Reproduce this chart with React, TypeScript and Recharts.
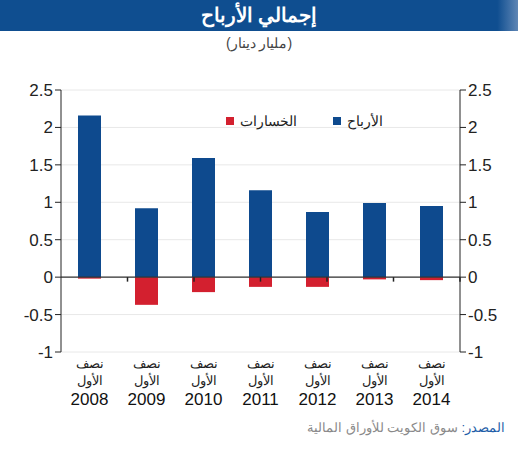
import { BarChart, Bar, XAxis, YAxis, CartesianGrid, ReferenceLine } from "recharts";

const years = ["2008", "2009", "2010", "2011", "2012", "2013", "2014"];
const profits = [2.16, 0.92, 1.59, 1.16, 0.87, 0.99, 0.95];
const losses = [-0.02, -0.37, -0.2, -0.13, -0.13, -0.03, -0.04];
const yTicks = [-1, -0.5, 0, 0.5, 1, 1.5, 2, 2.5];
const boundaries = [1, 2, 3, 4, 5, 6];

const data = years.map((y, i) => ({ year: y, profit: profits[i], loss: losses[i] }));

const BLUE = "#0e4a8e";
const RED = "#d3202f";
const FONT = "Liberation Sans, Arial, sans-serif";

const YearTick = (props: any) => {
  const { x, y, payload } = props;
  return (
    <g transform={`translate(${x},${y})`} textAnchor="middle" style={{ fontFamily: FONT }}>
      <text y={8} fontSize={13} fill="#222" style={{ fontFamily: FONT }}>نصف</text>
      <text y={25} fontSize={13} fill="#222" style={{ fontFamily: FONT }}>الأول</text>
      <text y={45} fontSize={17} fill="#111" style={{ fontFamily: FONT }}>{payload.value}</text>
    </g>
  );
};

export default function App() {
  return (
    <div style={{ position: "absolute", left: 0, top: 0, width: 522, height: 450, background: "#fff" }}>
      <div
        style={{
          position: "absolute", left: 0, top: 0, width: 518, height: 31,
          background: "linear-gradient(to right, #0f4e90 0%, #0f4e90 96%, #5f86b5 100%)",
          color: "#fff", fontFamily: FONT, fontWeight: "bold", fontSize: 20,
          textAlign: "center", lineHeight: "31px",
        }}
        dir="rtl"
      >
        إجمالي الأرباح
      </div>
      <div
        style={{ position: "absolute", left: 0, top: 35, width: 518, textAlign: "center", fontFamily: FONT, fontSize: 14, color: "#444" }}
        dir="rtl"
      >
        (مليار دينار)
      </div>
      <div style={{ position: "absolute", left: 0, top: 0 }}>
        <BarChart
          width={522} height={450} data={data} stackOffset="sign"
          margin={{ top: 90, right: 12, bottom: 38, left: 11 }} barSize={23}
        >
          <CartesianGrid vertical={false} stroke="#e8e8e8" yAxisId="left" xAxisId="cat" />
          <XAxis dataKey="year" xAxisId="cat" axisLine={false} tickLine={false} height={60} tick={<YearTick />} interval={0} />
          <XAxis xAxisId="num" type="number" domain={[0, 7]} hide />
          <YAxis
            yAxisId="left" domain={[-1, 2.5]} ticks={yTicks} width={50} allowDataOverflow
            axisLine={{ stroke: "#222" }} tickLine={{ stroke: "#222" }} tickSize={6}
            tick={{ fill: "#222", fontSize: 17, fontFamily: FONT }}
          />
          <YAxis
            yAxisId="right" orientation="right" domain={[-1, 2.5]} ticks={yTicks} width={50} allowDataOverflow
            axisLine={{ stroke: "#222" }} tickLine={{ stroke: "#222" }} tickSize={6}
            tick={{ fill: "#222", fontSize: 17, fontFamily: FONT }}
          />
          <Bar xAxisId="cat" yAxisId="left" dataKey="profit" stackId="a" fill={BLUE} isAnimationActive={false} />
          <Bar xAxisId="cat" yAxisId="left" dataKey="loss" stackId="a" fill={RED} isAnimationActive={false} />
          <ReferenceLine xAxisId="cat" yAxisId="left" y={0} stroke="#333" strokeWidth={1.2} />
          {boundaries.map((b) => (
            <ReferenceLine
              key={b}
              xAxisId="num"
              yAxisId="left"
              segment={[{ x: b, y: 0 }, { x: b, y: -0.06 }]}
              stroke="#222"
              strokeWidth={1.5}
            />
          ))}
        </BarChart>
      </div>
      <div
        style={{ position: "absolute", left: 226, top: 113, display: "flex", gap: 36, fontFamily: FONT, fontSize: 14, color: "#222" }}
      >
        <span style={{ display: "flex", alignItems: "center", gap: 6 }}>
          <span style={{ width: 8, height: 8, background: RED, display: "inline-block" }} />
          <span dir="rtl">الخسارات</span>
        </span>
        <span style={{ display: "flex", alignItems: "center", gap: 6 }}>
          <span style={{ width: 8, height: 8, background: BLUE, display: "inline-block" }} />
          <span dir="rtl">الأرباح</span>
        </span>
      </div>
      <div style={{ position: "absolute", right: 17, top: 420, fontFamily: FONT, fontSize: 13 }} dir="rtl">
        <span style={{ color: "#1f5ea8" }}>المصدر: </span>
        <span style={{ color: "#8a8a8a" }}>سوق الكويت للأوراق المالية</span>
      </div>
    </div>
  );
}
